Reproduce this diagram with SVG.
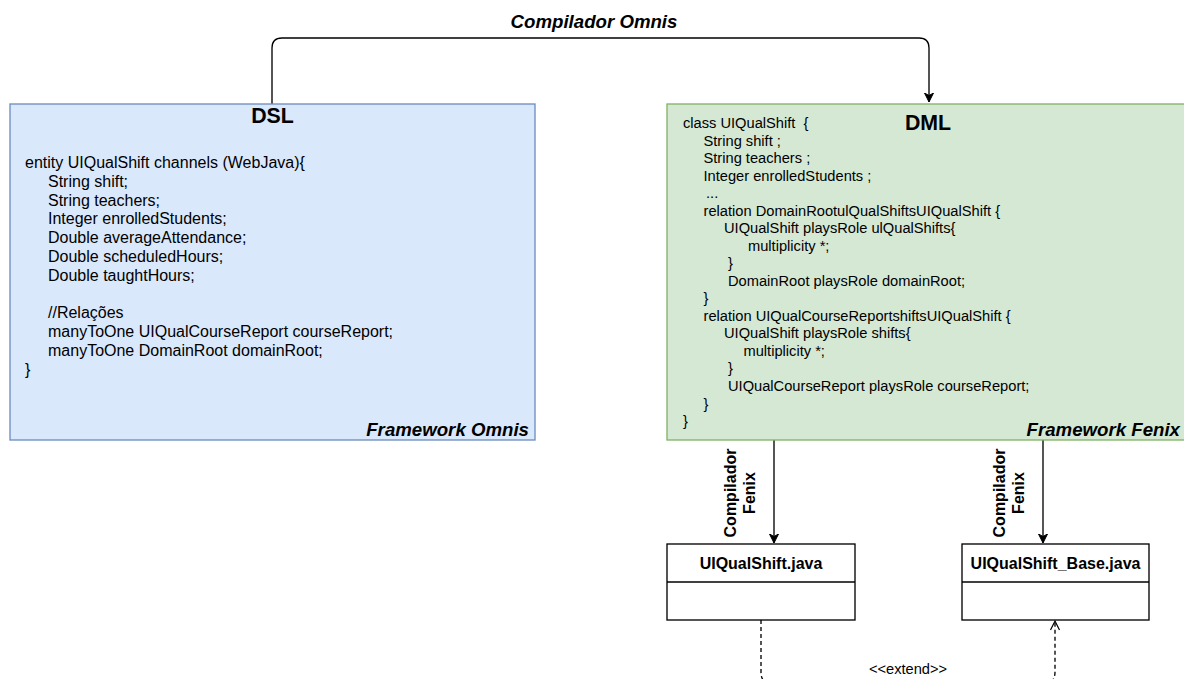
<svg xmlns="http://www.w3.org/2000/svg" width="1184" height="679" viewBox="0 0 1184 679">
<style>
text{font-family:"Liberation Sans",Arial,sans-serif;fill:#000}
.body16{font-size:16px}
.body14{font-size:14.67px}
.title{font-size:21.33px;font-weight:bold}
.bi{font-size:18.67px;font-weight:bold;font-style:italic}
.b16{font-size:16px;font-weight:bold}
.conn{fill:none;stroke:#000;stroke-width:1.33}
</style>
<defs>
<marker id="block" markerWidth="10" markerHeight="10" refX="9" refY="5" orient="auto" markerUnits="userSpaceOnUse">
<path d="M0,0.5 L9,5 L0,9.5 L2.5,5 Z" fill="#000" stroke="#000" stroke-width="1"/>
</marker>
<marker id="open" markerWidth="12" markerHeight="12" refX="10" refY="6" orient="auto" markerUnits="userSpaceOnUse">
<path d="M1,1.5 L10,6 L1,10.5" fill="none" stroke="#000" stroke-width="1.2"/>
</marker>
</defs>

<g id="connectors">
<path class="conn" d="M272,104 L272,48 Q272,38 282,38 L919,38 Q929,38 929,48 L929,102" marker-end="url(#block)"/>
<text class="bi" x="594" y="28" text-anchor="middle">Compilador Omnis</text>
<path class="conn" d="M774,440 L774,543" marker-end="url(#block)"/>
<text class="b16" transform="translate(736,493) rotate(-90)" text-anchor="middle">Compilador</text>
<text class="b16" transform="translate(755,493) rotate(-90)" text-anchor="middle">Fenix</text>
<path class="conn" d="M1043,440 L1043,543" marker-end="url(#block)"/>
<text class="b16" transform="translate(1005,493) rotate(-90)" text-anchor="middle">Compilador</text>
<text class="b16" transform="translate(1024,493) rotate(-90)" text-anchor="middle">Fenix</text>
<path class="conn" stroke-dasharray="4 3" d="M761,620 L761,672 Q761,684 773,684 L1043,684 Q1055,684 1055,672 L1055,621" marker-end="url(#open)"/>
<text class="body14" x="908" y="674" text-anchor="middle">&lt;&lt;extend&gt;&gt;</text>
</g>

<g id="dsl">
<rect x="10" y="104" width="525" height="336" fill="#dae8fc" stroke="#6c8ebf" stroke-width="1.33"/>
<text class="title" x="272.5" y="123" text-anchor="middle">DSL</text>
<g class="body16">
<text x="25" y="168">entity UIQualShift channels (WebJava){</text>
<text x="48" y="186.8">String shift;</text>
<text x="48" y="205.6">String teachers;</text>
<text x="48" y="224.4">Integer enrolledStudents;</text>
<text x="48" y="243.2">Double averageAttendance;</text>
<text x="48" y="262">Double scheduledHours;</text>
<text x="48" y="280.8">Double taughtHours;</text>
<text x="48" y="318.4">//Relações</text>
<text x="48" y="337.2">manyToOne UIQualCourseReport courseReport;</text>
<text x="48" y="356">manyToOne DomainRoot domainRoot;</text>
<text x="25" y="374.8">}</text>
</g>
<text class="bi" x="529" y="436" text-anchor="end">Framework Omnis</text>
</g>

<g id="dml">
<rect x="667" y="104" width="530" height="336" fill="#d5e8d4" stroke="#82b366" stroke-width="1.33"/>
<text class="title" x="928" y="130" text-anchor="middle">DML</text>
<g class="body14">
<text x="683" y="128" xml:space="preserve">class UIQualShift  {</text>
<text x="703.5" y="145.5">String shift ;</text>
<text x="703.5" y="163.1">String teachers ;</text>
<text x="703.5" y="180.6">Integer enrolledStudents ;</text>
<text x="706" y="198.1">...</text>
<text x="703.5" y="215.7">relation DomainRootulQualShiftsUIQualShift {</text>
<text x="724" y="233.2">UIQualShift playsRole ulQualShifts{</text>
<text x="748" y="250.7">multiplicity *;</text>
<text x="728" y="268.2">}</text>
<text x="728" y="285.8">DomainRoot playsRole domainRoot;</text>
<text x="703.5" y="303.3">}</text>
<text x="703.5" y="320.8">relation UIQualCourseReportshiftsUIQualShift {</text>
<text x="724" y="338.4">UIQualShift playsRole shifts{</text>
<text x="743.5" y="355.9">multiplicity *;</text>
<text x="728" y="373.4">}</text>
<text x="728" y="390.9">UIQualCourseReport playsRole courseReport;</text>
<text x="703.5" y="408.5">}</text>
<text x="683" y="426">}</text>
</g>
<text class="bi" x="1180" y="436" text-anchor="end">Framework Fenix</text>
</g>

<g id="uiqualshift-java">
<rect x="667" y="544" width="188" height="76" fill="#fff" stroke="#000" stroke-width="1.33"/>
<line x1="667" y1="582" x2="855" y2="582" stroke="#000" stroke-width="1.33"/>
<text class="b16" x="761" y="569" text-anchor="middle">UIQualShift.java</text>
</g>

<g id="uiqualshift-base-java">
<rect x="962" y="544" width="187" height="76" fill="#fff" stroke="#000" stroke-width="1.33"/>
<line x1="962" y1="582" x2="1149" y2="582" stroke="#000" stroke-width="1.33"/>
<text class="b16" x="1055.5" y="569" text-anchor="middle">UIQualShift_Base.java</text>
</g>
</svg>
